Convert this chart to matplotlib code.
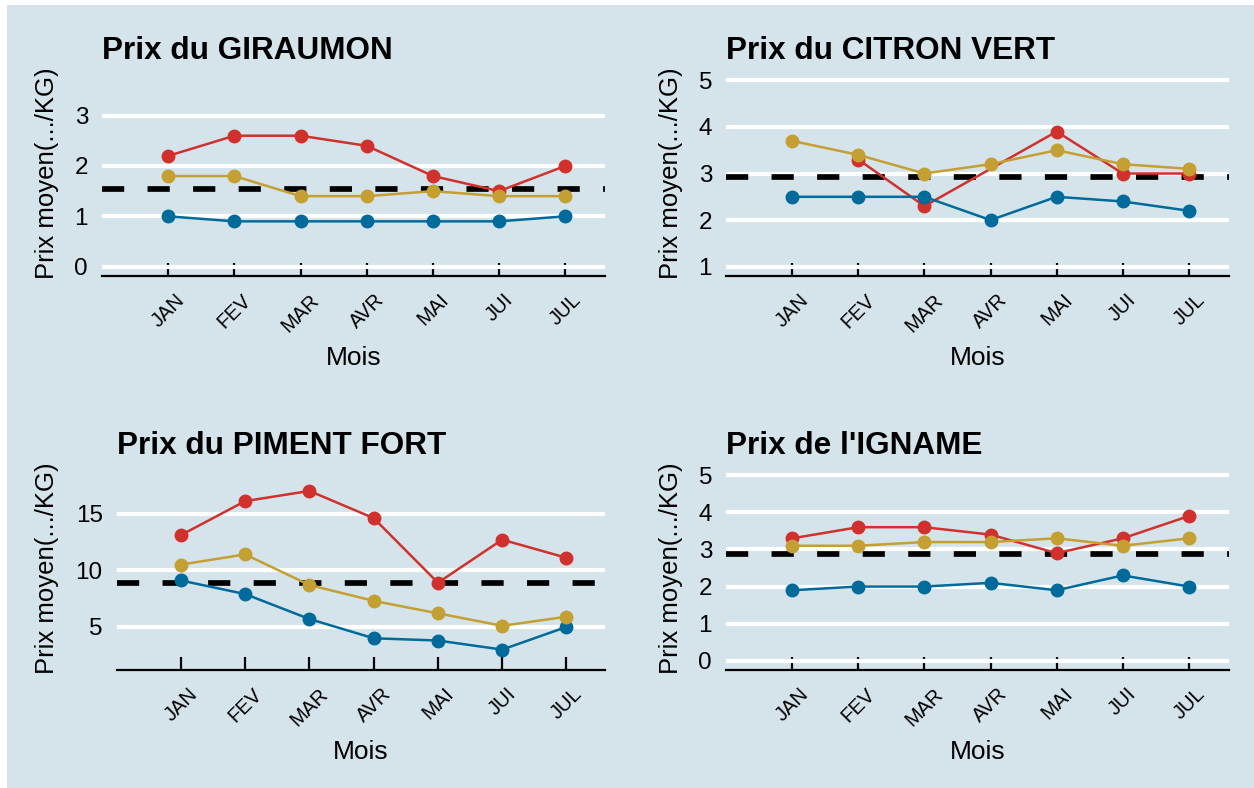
import numpy as np
import matplotlib
matplotlib.use("Agg")
import matplotlib.pyplot as plt
from matplotlib.patches import Rectangle
from matplotlib.transforms import ScaledTranslation

plt.rcParams['font.family'] = ['Liberation Sans', 'DejaVu Sans']

months = ["JAN", "FEV", "MAR", "AVR", "MAI", "JUI", "JUL"]

# GIRAUMON
giraumon_red = [2.2, 2.6, 2.6, 2.4, 1.8, 1.5, 2.0]
giraumon_gold = [1.8, 1.8, 1.4, 1.4, 1.5, 1.4, 1.4]
giraumon_blue = [1.0, 0.9, 0.9, 0.9, 0.9, 0.9, 1.0]
giraumon_mean = 1.54

# CITRON VERT (red missing in JAN and AVR)
citron_red = [np.nan, 3.3, 2.3, np.nan, 3.9, 3.0, 3.0]
citron_gold = [3.7, 3.4, 3.0, 3.2, 3.5, 3.2, 3.1]
citron_blue = [2.5, 2.5, 2.5, 2.0, 2.5, 2.4, 2.2]
citron_mean = 2.93

# PIMENT FORT
piment_red = [13.1, 16.1, 17.0, 14.6, 8.9, 12.7, 11.1]
piment_gold = [10.5, 11.4, 8.7, 7.3, 6.2, 5.1, 5.9]
piment_blue = [9.1, 7.9, 5.7, 4.0, 3.8, 3.0, 5.0]
piment_mean = 8.9

# IGNAME
igname_red = [3.3, 3.6, 3.6, 3.4, 2.9, 3.3, 3.9]
igname_gold = [3.1, 3.1, 3.2, 3.2, 3.3, 3.1, 3.3]
igname_blue = [1.9, 2.0, 2.0, 2.1, 1.9, 2.3, 2.0]
igname_mean = 2.88

titles = ["Prix du GIRAUMON", "Prix du CITRON VERT", "Prix du PIMENT FORT", "Prix de l'IGNAME"]

RED = "#D0312D"
GOLD = "#C49F32"
BLUE = "#006A9A"
BG = "#D5E4EB"

W, H = 1254, 788
fig = plt.figure(figsize=(W / 100, H / 100), dpi=100, facecolor="white")
fig.patches.append(Rectangle((7 / W, 0), 1 - 7 / W, 1 - 5 / H, transform=fig.transFigure,
                             facecolor=BG, edgecolor="none", zorder=-10))

# panel boxes in pixels: left, top, right, bottom
boxes = [(102, 71, 605, 276), (726, 71, 1228.6, 276),
         (116.6, 466, 605, 670), (726, 466, 1228.6, 670)]
panels = [
    (giraumon_red, giraumon_blue, giraumon_gold, giraumon_mean, [0, 1, 2, 3], (-0.185, 3.885)),
    (citron_red, citron_blue, citron_gold, citron_mean, [1, 2, 3, 4, 5], (0.8, 5.2)),
    (piment_red, piment_blue, piment_gold, piment_mean, [5, 10, 15], (1.2, 19.2)),
    (igname_red, igname_blue, igname_gold, igname_mean, [0, 1, 2, 3, 4, 5], (-0.25, 5.25)),
]
ylab_right = [59.3, 682.7, 59.3, 682.7]

x = np.arange(1, len(months) + 1)

for i in range(4):
    l, t, r, b = boxes[i]
    red, blue, gold, mean, yticks, ylim = panels[i]
    ax = fig.add_axes([l / W, (H - b) / H, (r - l) / W, (b - t) / H])
    ax.set_facecolor("none")

    for vals, col in [(red, RED), (blue, BLUE), (gold, GOLD)]:
        v = np.array(vals, dtype=float)
        ok = ~np.isnan(v)
        ax.plot(x[ok], v[ok], color=col, lw=1.8, marker="o", markersize=9, zorder=3)
    ax.axhline(mean, color="black", lw=4.1, linestyle=(0, (3.9, 4.1)),
               dash_capstyle="butt", zorder=2)

    ax.set_xlim(0, 7.6)
    ax.set_ylim(ylim)
    ax.set_yticks(yticks)
    ax.set_xticks(x)
    ax.set_xticklabels(months, rotation=45, fontsize=14.5)
    for lab in ax.get_xticklabels():
        lab.set_transform(lab.get_transform() + ScaledTranslation(-0.09, 0, fig.dpi_scale_trans))
    ax.grid(axis="y", color="white", lw=3.0, zorder=0)
    ax.set_axisbelow(True)

    for s in ["top", "right", "left"]:
        ax.spines[s].set_visible(False)
    ax.spines["bottom"].set_linewidth(1.6)
    ax.tick_params(axis="x", direction="in", length=9.4, width=1.6, pad=10.5)
    ax.tick_params(axis="y", length=0, pad=10, labelsize=17.5)

    ax.set_title(titles[i], loc="left", fontsize=22.7, fontweight="bold", pad=8.6)
    ax.set_xlabel("Mois", fontsize=19)
    ax.xaxis.set_label_coords(0.5, -70 / (b - t))
    ax.xaxis.label.set_va("top")
    ax.set_ylabel("Prix moyen(.../KG)", fontsize=18.5)
    ax.yaxis.set_label_coords(-(l - ylab_right[i]) / (r - l), 0.5)

fig.savefig("out.png", dpi=100, facecolor="white")
